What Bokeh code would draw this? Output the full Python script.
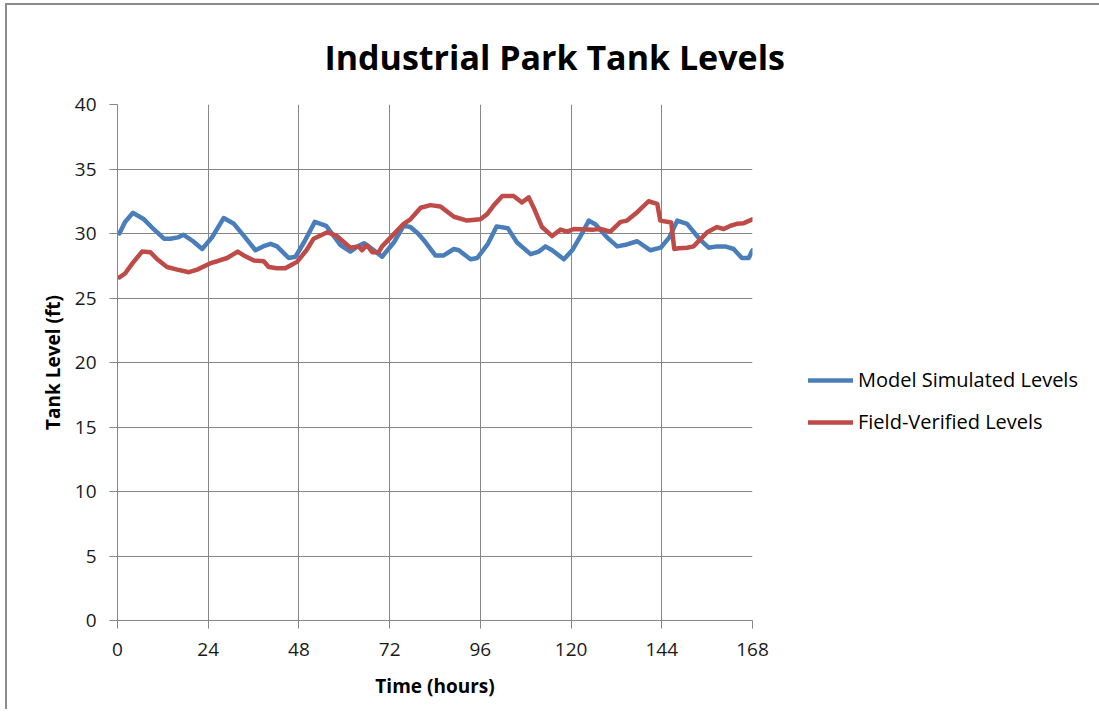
from bokeh.plotting import figure
from bokeh.models import Legend, LegendItem, FixedTicker, Range1d
from bokeh.embed import file_html
from bokeh.resources import INLINE

# ---- data ----
model_hours = [0.5, 2, 4.1, 7.0, 9, 12.3, 14, 16, 17.5, 20, 22.4, 25, 28.1, 30.8, 33.5, 36.5, 38.5,
               40.5, 42.2, 45.3, 47.1, 49.5, 52.2, 55.2, 57, 59.0, 61.6, 63.5, 65.2, 67.4, 70.0, 73.1,
               75.7, 77.5, 79.5, 81.0, 84.1, 86.3, 89.0, 90.3, 93.4, 95.2, 98, 100.3, 103.3, 105.7,
               109.3, 111.5, 113.2, 115.0, 118.1, 120.3, 122.5, 124.7, 126.5, 129.5, 132.2, 134.8,
               137.5, 141.0, 143.7, 146, 148.1, 150.7, 154.2, 156.4, 158.6, 160.8, 163.0, 165.2, 167.0, 168]
model_levels = [30.0, 30.9, 31.6, 31.1, 30.5, 29.6, 29.6, 29.7, 29.9, 29.4, 28.8, 29.7, 31.2, 30.75,
                29.8, 28.7, 29.0, 29.2, 29.0, 28.1, 28.2, 29.4, 30.9, 30.6, 29.9, 29.1, 28.6, 29.0,
                29.25, 28.8, 28.2, 29.3, 30.6, 30.5, 30.0, 29.5, 28.3, 28.3, 28.8, 28.7, 28.0, 28.1,
                29.2, 30.55, 30.4, 29.3, 28.4, 28.6, 29.0, 28.7, 28.0, 28.7, 29.8, 31.0, 30.7, 29.7,
                29.0, 29.15, 29.4, 28.7, 28.9, 29.7, 31.0, 30.75, 29.5, 28.9, 29.0, 29.0, 28.8, 28.1,
                28.1, 28.7]

field_hours = [0.5, 2, 4, 6.5, 8.7, 10.5, 13.1, 15.8, 18.9, 21.1, 24.6, 26.4, 29.0, 31.8, 33.4, 36.1,
               38.7, 40.0, 42.2, 44.4, 46.2, 47.5, 50, 51.9, 55.5, 58.1, 61.6, 63.8, 64.7, 66.0, 67.4,
               69.1, 70.0, 72.6, 75.7, 77.5, 80.2, 82.8, 85.4, 89.0, 92.5, 96.0, 97.8, 99.6, 101.8,
               104.8, 107.0, 108.8, 110.1, 112.3, 115.0, 117.2, 119.0, 120.7, 126.0, 127.8, 130.4,
               133.1, 134.8, 137.5, 140.5, 142.8, 143.6, 146.5, 147.3, 148.5, 150.7, 152.4, 156.0,
               158.6, 160.4, 162.2, 163.9, 165.7, 168]
field_levels = [26.6, 26.9, 27.7, 28.6, 28.55, 28.0, 27.4, 27.2, 27.0, 27.2, 27.7, 27.85, 28.1, 28.6,
                28.3, 27.9, 27.85, 27.4, 27.3, 27.3, 27.6, 27.8, 28.7, 29.6, 30.1, 29.8, 28.9, 29.0,
                28.7, 29.1, 28.55, 28.55, 29.0, 29.8, 30.75, 31.1, 32.0, 32.2, 32.1, 31.3, 31.0, 31.1,
                31.5, 32.2, 32.9, 32.9, 32.4, 32.8, 32.0, 30.5, 29.8, 30.3, 30.15, 30.35, 30.3, 30.35,
                30.15, 30.9, 31.0, 31.65, 32.5, 32.3, 31.0, 30.85, 28.8, 28.85, 28.9, 29.0, 30.1, 30.5,
                30.35, 30.6, 30.75, 30.8, 31.1]

x_ticks = [0, 24, 48, 72, 96, 120, 144, 168]
y_ticks = [0, 5, 10, 15, 20, 25, 30, 35, 40]

title_text = "Industrial Park Tank Levels"
x_label = "Time (hours)"
y_label = "Tank Level (ft)"
series_names = ["Model Simulated Levels", "Field-Verified Levels"]

FONT = "Open Sans"
GRID = "#868686"
BLUE = "#4a7ebb"
RED = "#be4b48"

p = figure(width=1092, height=704, output_backend="svg", toolbar_location=None,
           title=title_text,
           x_range=Range1d(0, 168), y_range=Range1d(0, 40),
           frame_width=635, frame_height=516,
           min_border_left=110, min_border_right=347, min_border_top=99, min_border_bottom=89)
p.styles = {"margin-top": "3px", "margin-left": "5px",
            "border-top": "2px solid #8c8c8c", "border-left": "2px solid #8c8c8c"}
p.outline_line_color = None
p.background_fill_color = "white"
p.border_fill_color = "white"

p.title.align = "left"
p.title.offset = 207
p.title.standoff = 50
p.title.text_font = FONT
p.title.text_font_style = "bold"
p.title.text_font_size = "34px"
p.title.text_color = "black"

for ax, ticks in ((p.xaxis[0], x_ticks), (p.yaxis[0], y_ticks)):
    ax.ticker = FixedTicker(ticks=ticks)
    ax.axis_line_color = GRID
    ax.major_tick_line_color = GRID
    ax.major_tick_out = 8
    ax.major_tick_in = 0
    ax.minor_tick_line_color = None
    ax.major_label_text_font = FONT
    ax.major_label_text_font_size = "19px"
    ax.major_label_text_color = "#1a1a1a"
    ax.axis_label_text_font = FONT
    ax.axis_label_text_font_style = "bold"
    ax.axis_label_text_font_size = "19px"
    ax.axis_label_text_color = "black"

p.xaxis.axis_label = x_label
p.yaxis.axis_label = y_label
p.xaxis.major_label_standoff = 14
p.yaxis.major_label_standoff = 13
p.xaxis.axis_label_standoff = 14
p.yaxis.axis_label_standoff = 6

p.xgrid.ticker = FixedTicker(ticks=x_ticks)
p.ygrid.ticker = FixedTicker(ticks=y_ticks)
p.grid.grid_line_color = GRID
p.grid.grid_line_width = 1

r1 = p.line(model_hours, model_levels, line_color=BLUE, line_width=4.5, line_join="round", line_cap="round")
r2 = p.line(field_hours, field_levels, line_color=RED, line_width=4.5, line_join="round", line_cap="round")

legend = Legend(items=[LegendItem(label=series_names[0], renderers=[r1]),
                       LegendItem(label=series_names[1], renderers=[r2])],
                location=(56, 185), orientation="vertical",
                glyph_width=45, glyph_height=20, label_height=20, spacing=15,
                label_standoff=5, padding=0, margin=0,
                label_text_font=FONT, label_text_font_size="20px", label_text_color="black",
                border_line_color=None, background_fill_alpha=0)
p.add_layout(legend, "right")

open("out.html", "w").write(file_html(p, INLINE))
